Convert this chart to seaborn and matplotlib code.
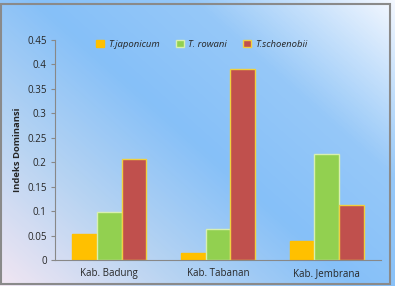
import numpy as np
import pandas as pd
import matplotlib
matplotlib.use("Agg")
import matplotlib.pyplot as plt
import seaborn as sns
from matplotlib.colors import LinearSegmentedColormap
from matplotlib.patches import Rectangle, Patch

categories = ["Kab. Badung", "Kab. Tabanan", "Kab. Jembrana"]
series = ["T.japonicum", "T. rowani", "T.schoenobii"]
japonicum = [0.053, 0.015, 0.038]
rowani = [0.099, 0.063, 0.216]
schoenobii = [0.207, 0.390, 0.113]
yticks = [0, 0.05, 0.1, 0.15, 0.2, 0.25, 0.3, 0.35, 0.4, 0.45]
ytick_labels = ["0", "0.05", "0.1", "0.15", "0.2", "0.25", "0.3", "0.35", "0.4", "0.45"]

df = pd.DataFrame({
    "cat": categories * 3,
    "series": [series[0]] * 3 + [series[1]] * 3 + [series[2]] * 3,
    "val": japonicum + rowani + schoenobii,
})

colors = ["#FFC000", "#92D050", "#C0504D"]
edges = ["#FFC000", "#D8F0B0", "#F0D040"]

sns.set_theme(style="white")
plt.rcParams['font.family'] = ['Open Sans', 'DejaVu Sans']

fig = plt.figure(figsize=(3.95, 2.86), dpi=100)

# gradient background
bg = fig.add_axes([0, 0, 1, 1], zorder=-10)
h, w = 286, 395
yy, xx = np.mgrid[0:h, 0:w]
u = (xx / w) * 0.55 + ((h - yy) / h) * 0.45
cmap = LinearSegmentedColormap.from_list("g", [
    (0.0, "#F2E6F2"), (0.25, "#B8D4F2"), (0.5, "#86C0F8"),
    (0.72, "#96C8F8"), (1.0, "#F4F8FF")])
bg.imshow(u, cmap=cmap, aspect="auto", extent=[0, 1, 0, 1], origin="upper", vmin=0, vmax=1)
bg.set_axis_off()
bg.add_patch(Rectangle((0.003, 0.006), 0.985, 0.98, fill=False, edgecolor="#8A8A8A", lw=1.5, transform=bg.transAxes))

ax = fig.add_axes([55 / 395, 1 - 260 / 286, 326 / 395, 220 / 286])
ax.patch.set_alpha(0)
sns.barplot(data=df, x="cat", y="val", hue="series", hue_order=series, order=categories,
            palette=colors, width=0.68, gap=0, ax=ax, saturation=1, legend=False)

for i, cont in enumerate(ax.containers):
    for p in cont:
        p.set_edgecolor(edges[i])
        p.set_linewidth(1.0)

ax.set_xlim(-0.5, 2.5)
ax.set_ylim(0, 0.45)
ax.set_yticks(yticks)
ax.set_yticklabels(ytick_labels, fontsize=7)
ax.tick_params(axis="x", labelsize=7, length=0, pad=6)
ax.tick_params(axis="y", length=3, width=0.8, color="#888888", left=True, pad=3)
ax.set_xlabel("")
ax.set_ylabel("Indeks Dominansi", fontsize=6.8, fontweight="bold", labelpad=4)
for s in ["top", "right"]:
    ax.spines[s].set_visible(False)
for s in ["left", "bottom"]:
    ax.spines[s].set_color("#888888")
    ax.spines[s].set_linewidth(0.8)

handles = [Patch(facecolor=c, edgecolor=e) for c, e in zip(colors, edges)]
leg = ax.legend(handles, series, loc="upper center", bbox_to_anchor=(0.45, 1.04), ncol=3,
                frameon=False, fontsize=6.8, handlelength=0.8, handleheight=0.8,
                handletextpad=0.4, columnspacing=1.8)
for t in leg.get_texts():
    t.set_fontstyle("italic")

fig.savefig("out.png", dpi=100)
